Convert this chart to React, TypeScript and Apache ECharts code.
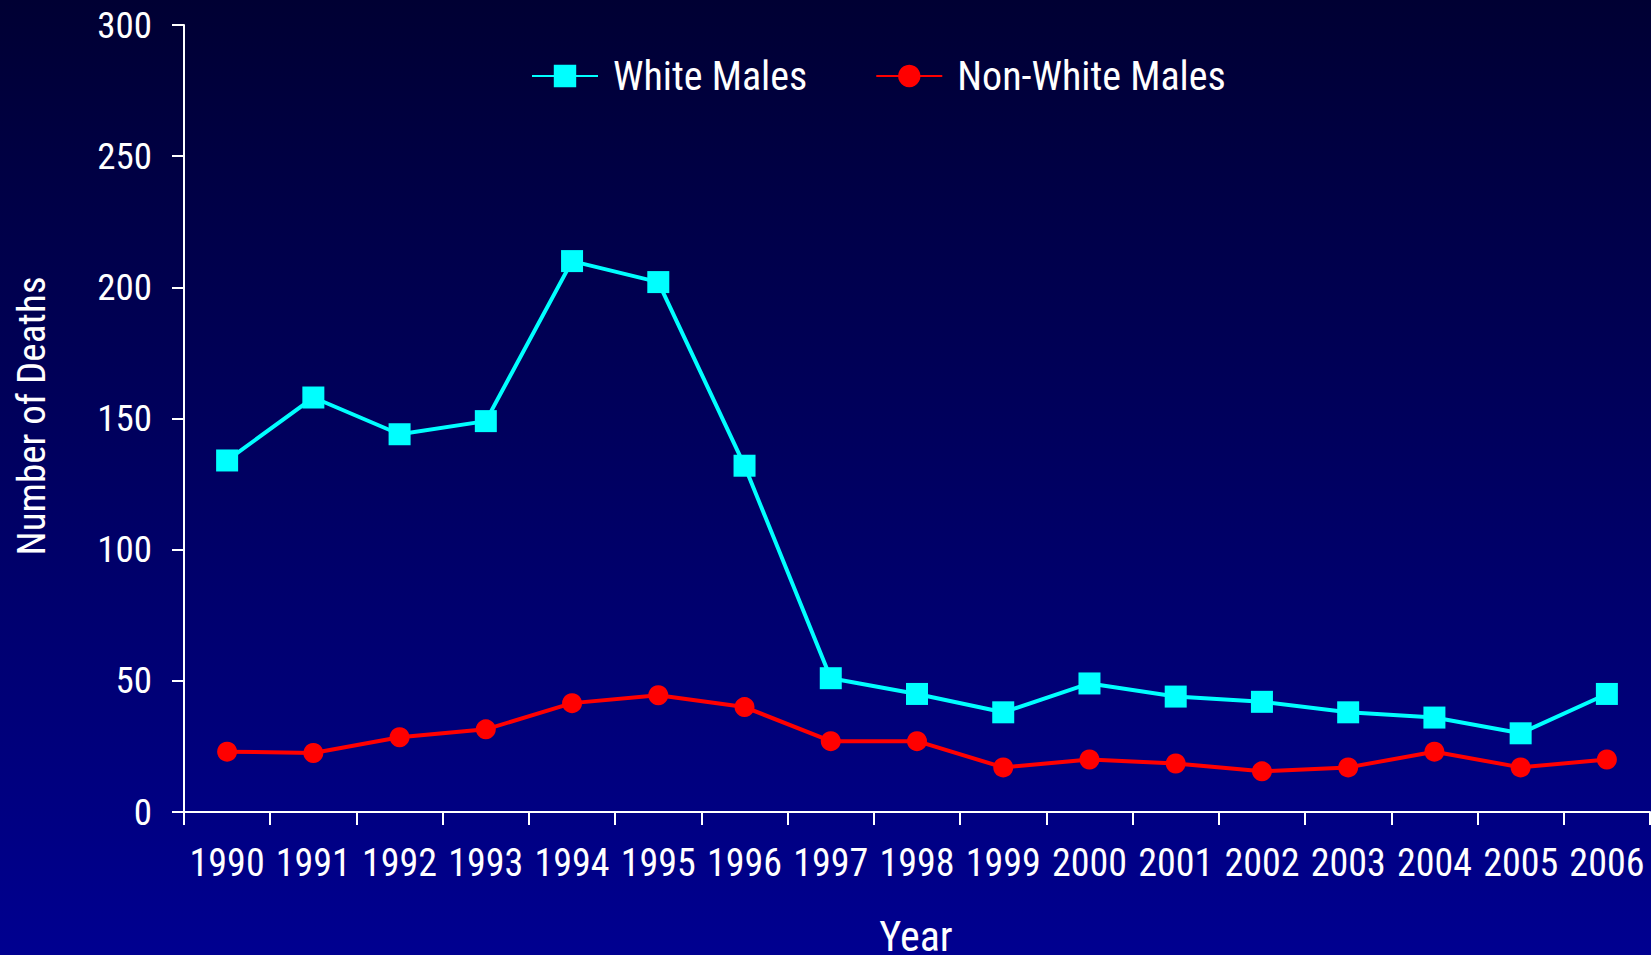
import React, { useEffect, useRef } from "react";
import * as echarts from "echarts";

const years = ["1990","1991","1992","1993","1994","1995","1996","1997","1998","1999","2000","2001","2002","2003","2004","2005","2006"];
const whiteMales = [134, 158, 144, 149, 210, 202, 132, 51, 45, 38, 49, 44, 42, 38, 36, 30, 45];
const nonWhiteMales = [23, 22.5, 28.5, 31.5, 41.5, 44.5, 40, 27, 27, 17, 20, 18.5, 15.5, 17, 23, 17, 20];
const seriesNames = ["White Males", "Non-White Males"];
const yTicks = { min: 0, max: 300, interval: 50 };

const FONT = "'Liberation Sans Narrow', 'Arial Narrow', 'Roboto Condensed', sans-serif";

export default function App() {
  const ref = useRef<HTMLDivElement>(null);
  useEffect(() => {
    document.body.style.margin = "0";
    const chart = echarts.init(ref.current!, null, { renderer: "svg" });
    chart.setOption({
      animation: false,
      backgroundColor: {
        type: "linear", x: 0, y: 0, x2: 0, y2: 1,
        colorStops: [
          { offset: 0, color: "#000033" },
          { offset: 1, color: "#000090" },
        ],
      },
      grid: { left: 184, top: 25, right: 1, bottom: 143, containLabel: false },
      legend: {
        left: 526,
        top: 51,
        itemWidth: 66,
        itemHeight: 28,
        itemGap: 68,
        textStyle: { color: "#ffffff", fontSize: 40, fontFamily: FONT, padding: [0, 0, 0, 10] },
        data: seriesNames,
      },
      xAxis: {
        type: "category",
        data: years,
        boundaryGap: true,
        axisLine: { lineStyle: { color: "#ffffff", width: 2 } },
        axisTick: { show: true, length: 13, lineStyle: { color: "#ffffff", width: 2 } },
        axisLabel: { color: "#ffffff", fontSize: 38, fontFamily: FONT, margin: 32, interval: 0 },
        splitLine: { show: false },
      },
      yAxis: {
        type: "value",
        min: yTicks.min,
        max: yTicks.max,
        interval: yTicks.interval,
        axisLine: { show: true, lineStyle: { color: "#ffffff", width: 2 } },
        axisTick: { show: true, length: 12, lineStyle: { color: "#ffffff", width: 2 } },
        axisLabel: { color: "#ffffff", fontSize: 37, fontFamily: FONT, margin: 32 },
        splitLine: { show: false },
      },
      graphic: [
        {
          type: "text",
          x: 32,
          y: 416,
          rotation: Math.PI / 2,
          style: {
            text: "Number of Deaths",
            fill: "#ffffff",
            font: `39px ${FONT}`,
            align: "center",
            verticalAlign: "middle",
          },
        },
        {
          type: "text",
          x: 916,
          y: 936,
          style: {
            text: "Year",
            fill: "#ffffff",
            font: `42px ${FONT}`,
            align: "center",
            verticalAlign: "middle",
          },
        },
      ],
      series: [
        {
          name: seriesNames[0],
          type: "line",
          data: whiteMales,
          symbol: "rect",
          symbolSize: 22,
          lineStyle: { color: "#00ffff", width: 4 },
          itemStyle: { color: "#00ffff" },
        },
        {
          name: seriesNames[1],
          type: "line",
          data: nonWhiteMales,
          symbol: "circle",
          symbolSize: 20,
          lineStyle: { color: "#ff0000", width: 4 },
          itemStyle: { color: "#ff0000" },
        },
      ],
    });
    return () => chart.dispose();
  }, []);
  return <div ref={ref} style={{ width: 1651, height: 955 }} />;
}
